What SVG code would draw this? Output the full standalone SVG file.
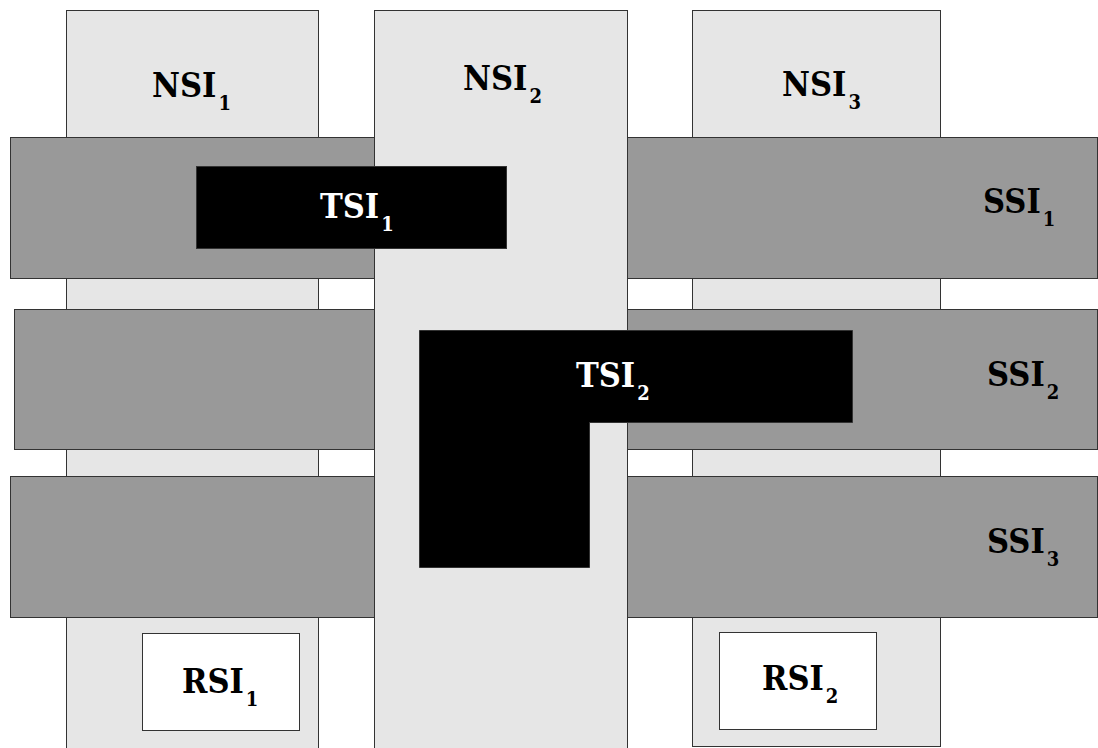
<svg xmlns="http://www.w3.org/2000/svg" width="1098" height="748" viewBox="0 0 1098 748">
  <style>
    .nsi { fill: #e6e6e6; stroke: #333333; stroke-width: 1; }
    .ssi { fill: #999999; stroke: #333333; stroke-width: 1; }
    .tsi { fill: #000000; stroke: #333333; stroke-width: 1; }
    .rsi { fill: #ffffff; stroke: #333333; stroke-width: 1; }
    .lbl { font-family: "DejaVu Serif Condensed", "DejaVu Serif", serif; font-stretch: condensed; font-weight: bold; font-size: 34px; fill: #000000; }
    .lbl.inv { fill: #ffffff; }
    .sub { font-size: 20px; }
  </style>
  <rect width="1098" height="748" fill="#ffffff"/>

  <!-- outer slice columns (behind the bands) -->
  <g id="nsi1">
    <rect class="nsi" x="66.5" y="10.5" width="252" height="745"/>
    <text class="lbl" x="152" y="97">NSI<tspan class="sub" dx="2" dy="13">1</tspan></text>
  </g>
  <g id="nsi3">
    <rect class="nsi" x="692.5" y="10.5" width="248" height="736"/>
    <text class="lbl" x="782" y="96">NSI<tspan class="sub" dx="2" dy="13">3</tspan></text>
  </g>

  <!-- horizontal bands -->
  <g id="ssi1">
    <rect class="ssi" x="10.5" y="137.5" width="1087" height="141"/>
    <text class="lbl" x="983" y="213">SSI<tspan class="sub" dx="2" dy="13">1</tspan></text>
  </g>
  <g id="ssi2">
    <rect class="ssi" x="14.5" y="309.5" width="1083" height="140"/>
    <text class="lbl" x="987" y="386">SSI<tspan class="sub" dx="2" dy="13">2</tspan></text>
  </g>
  <g id="ssi3">
    <rect class="ssi" x="10.5" y="476.5" width="1087" height="141"/>
    <text class="lbl" x="987" y="553">SSI<tspan class="sub" dx="2" dy="13">3</tspan></text>
  </g>

  <!-- middle column drawn over the bands -->
  <g id="nsi2">
    <rect class="nsi" x="374.5" y="10.5" width="253" height="745"/>
    <text class="lbl" x="463" y="90">NSI<tspan class="sub" dx="2" dy="13">2</tspan></text>
  </g>

  <!-- resource slices -->
  <g id="rsi1">
    <rect class="rsi" x="142.5" y="633.5" width="157" height="97"/>
    <text class="lbl" x="182" y="693">RSI<tspan class="sub" dx="2" dy="13">1</tspan></text>
  </g>
  <g id="rsi2">
    <rect class="rsi" x="719.5" y="632.5" width="157" height="97"/>
    <text class="lbl" x="762" y="690">RSI<tspan class="sub" dx="2" dy="13">2</tspan></text>
  </g>

  <!-- transport slices on top -->
  <g id="tsi1">
    <rect class="tsi" x="196.5" y="166.5" width="310" height="82"/>
    <text class="lbl inv" x="320" y="218">TSI<tspan class="sub" dx="2" dy="13">1</tspan></text>
  </g>
  <g id="tsi2">
    <path class="tsi" d="M419.5,330.5 H852.5 V422.5 H589.5 V567.5 H419.5 Z"/>
    <text class="lbl inv" x="576" y="387">TSI<tspan class="sub" dx="2" dy="13">2</tspan></text>
  </g>

  <g id="connectors"/>
</svg>
